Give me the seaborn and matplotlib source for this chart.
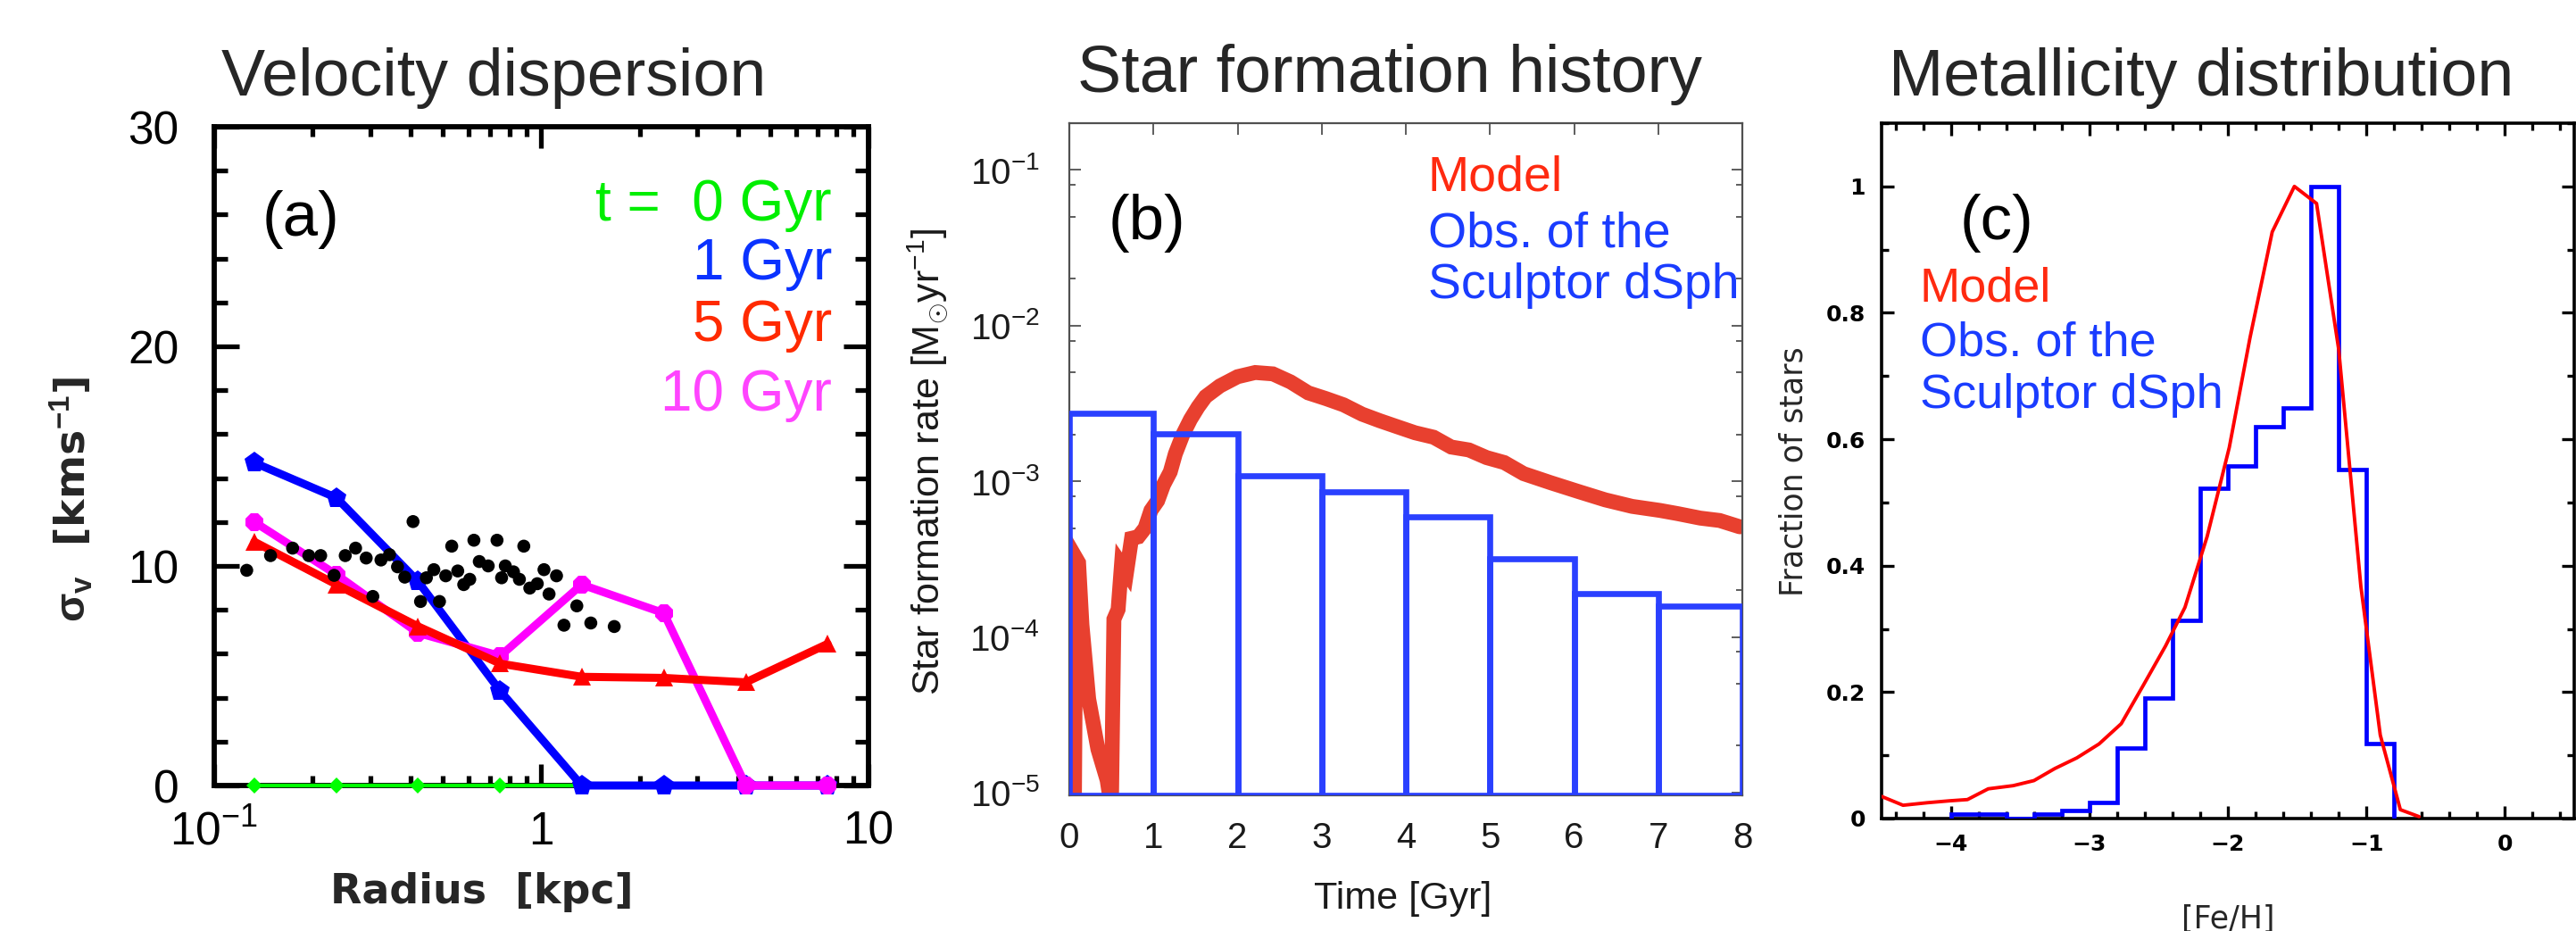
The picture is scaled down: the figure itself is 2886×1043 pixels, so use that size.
import numpy as np
import pandas as pd
import matplotlib
matplotlib.use('Agg')
import matplotlib.pyplot as plt
import matplotlib.ticker as mticker
import seaborn as sns

# ---------------- data ----------------
# (a) velocity dispersion profiles
radius_kpc = [0.133, 0.237, 0.42, 0.75, 1.33, 2.37, 4.22, 7.5]
sigma_0gyr = [0, 0, 0, 0, 0, 0, 0, 0]
sigma_1gyr = [14.7, 13.1, 9.3, 4.3, 0, 0, 0, 0]
sigma_5gyr = [11.1, 9.15, 7.25, 5.55, 4.95, 4.9, 4.7, 6.45]
sigma_10gyr = [12.0, 9.6, 6.95, 5.9, 9.15, 7.85, 0, 0]
obs_radius = [0.126, 0.149, 0.174, 0.195, 0.212, 0.233, 0.252, 0.271, 0.292, 0.306,
              0.324, 0.344, 0.364, 0.383, 0.406, 0.428, 0.446, 0.470, 0.489, 0.511,
              0.533, 0.556, 0.580, 0.605, 0.623, 0.647, 0.689, 0.733, 0.757, 0.777,
              0.823, 0.858, 0.885, 0.923, 0.973, 1.02, 1.057, 1.114, 1.174, 1.285,
              1.418, 1.672]
obs_sigma = [9.80, 10.47, 10.81, 10.47, 10.47, 9.57, 10.47, 10.81, 10.36, 8.61,
             10.27, 10.51, 9.96, 9.49, 12.02, 8.38, 9.46, 9.83, 8.38, 9.55,
             10.90, 9.77, 9.15, 9.39, 11.17, 10.20, 10.0, 11.17, 9.46, 10.0,
             9.73, 9.39, 10.90, 8.99, 9.19, 9.83, 8.72, 9.55, 7.30, 8.18,
             7.40, 7.24]
xticks_a = [0.1, 1, 10]
xticklabels_a = [r'$10^{-1}$', '1', '10']

# (b) star formation history
sfh_bin_left = [0, 1, 2, 3, 4, 5, 6, 7]
sfh_obs = [2.73e-3, 2.0e-3, 1.08e-3, 8.5e-4, 5.85e-4, 3.1e-4, 1.8e-4, 1.48e-4]
sfr_time = [0.06, 0.08, 0.11, 0.15, 0.23, 0.34, 0.45, 0.50, 0.53, 0.58,
            0.62, 0.68, 0.74, 0.82, 0.90, 0.97, 1.05, 1.12, 1.20, 1.26,
            1.35, 1.44, 1.53, 1.62, 1.79, 2.00, 2.21, 2.42, 2.63, 2.84,
            3.05, 3.26, 3.48, 3.69, 3.90, 4.11, 4.33, 4.54, 4.75, 4.96,
            5.17, 5.40, 5.72, 6.05, 6.37, 6.69, 7.02, 7.23, 7.50, 7.73, 7.97]
sfr_model = [8e-6, 3.2e-4, 3.0e-4, 1.2e-4, 4.0e-5, 1.9e-5, 1.2e-5, 8e-6, 1.3e-4, 1.5e-4,
             2.9e-4, 2.6e-4, 4.3e-4, 4.4e-4, 5.0e-4, 6.5e-4, 7.5e-4, 9.5e-4, 1.15e-3, 1.5e-3,
             2.0e-3, 2.5e-3, 3.0e-3, 3.5e-3, 4.1e-3, 4.7e-3, 5.0e-3, 4.9e-3, 4.35e-3, 3.7e-3,
             3.4e-3, 3.1e-3, 2.7e-3, 2.45e-3, 2.24e-3, 2.05e-3, 1.92e-3, 1.66e-3, 1.59e-3, 1.42e-3,
             1.32e-3, 1.12e-3, 9.8e-4, 8.6e-4, 7.6e-4, 6.9e-4, 6.5e-4, 6.2e-4, 5.8e-4, 5.6e-4, 5.1e-4]
yticks_b = [1e-5, 1e-4, 1e-3, 1e-2, 1e-1]
yticklabels_b = [r'$10^{-5}$', r'$10^{-4}$', r'$10^{-3}$', r'$10^{-2}$', r'$10^{-1}$']

# (c) metallicity distribution
feh_bin_edges = [-4.0, -3.8, -3.6, -3.4, -3.2, -3.0, -2.8, -2.6, -2.4, -2.2,
                 -2.0, -1.8, -1.6, -1.4, -1.2, -1.0, -0.8]
feh_obs = [0.007, 0.007, 0.0, 0.007, 0.013, 0.025, 0.111, 0.191, 0.314, 0.522,
           0.558, 0.620, 0.650, 1.0, 0.552, 0.118]
feh_model_x = [-4.5, -4.345, -4.17, -4.01, -3.88, -3.73, -3.55, -3.40, -3.25, -3.09,
               -2.93, -2.77, -2.61, -2.45, -2.31, -2.15, -1.99, -1.84, -1.68, -1.52,
               -1.36, -1.20, -1.04, -0.90, -0.755, -0.62]
feh_model_y = [0.035, 0.021, 0.025, 0.028, 0.030, 0.047, 0.052, 0.060, 0.079, 0.096,
               0.118, 0.150, 0.211, 0.273, 0.334, 0.446, 0.587, 0.761, 0.928, 1.0,
               0.973, 0.742, 0.367, 0.132, 0.014, 0.003]
xticks_c = [-4, -3, -2, -1, 0]
xticklabels_c = ['\u22124', '\u22123', '\u22122', '\u22121', '0']
yticks_c = [0, 0.2, 0.4, 0.6, 0.8, 1.0]
yticklabels_c = ['0', '0.2', '0.4', '0.6', '0.8', '1']

# ---------------- style ----------------
sns.set_theme(style='ticks')
plt.rcParams['font.family'] = ['Liberation Sans', 'DejaVu Sans']
plt.rcParams['mathtext.fontset'] = 'custom'
plt.rcParams['mathtext.rm'] = 'Liberation Sans'
plt.rcParams['mathtext.it'] = 'Liberation Sans:italic'
plt.rcParams['mathtext.bf'] = 'Liberation Sans:bold'
plt.rcParams['mathtext.sf'] = 'Liberation Sans'

W, H = 2886, 1043
fig = plt.figure(figsize=(W / 100, H / 100), dpi=100)


def add_ax(l, r, t, b):
    return fig.add_axes([l / W, 1 - b / H, (r - l) / W, (b - t) / H])


def px(x, y):
    return x / W, 1 - y / H


axA = add_ax(239.6, 973, 142, 880)
axB = add_ax(1198, 1952, 138, 891)
axC = add_ax(2108, 2884, 138, 917)

# ---------------- panel (a) ----------------
axA.set_xscale('log')
sns.lineplot(x=radius_kpc, y=sigma_0gyr, ax=axA, color='#00ff00', lw=3, marker='D',
             markersize=9, markeredgewidth=0, clip_on=False, zorder=3)
sns.lineplot(x=radius_kpc, y=sigma_1gyr, ax=axA, color='#0000ff', lw=6.5, marker='p',
             markersize=17, markeredgewidth=0, clip_on=False, zorder=4)
sns.lineplot(x=radius_kpc, y=sigma_10gyr, ax=axA, color='#ff00ff', lw=6.5, marker='8',
             markersize=16, markeredgewidth=0, clip_on=False, zorder=5)
sns.lineplot(x=radius_kpc, y=sigma_5gyr, ax=axA, color='#ff0000', lw=6.5, marker='^',
             markersize=15, markeredgewidth=0, clip_on=False, zorder=6)
sns.scatterplot(x=obs_radius, y=obs_sigma, ax=axA, color='black', s=110,
                edgecolor='none', zorder=7)
axA.set_xlim(0.1, 10)
axA.set_ylim(0, 30)
axA.set_xticks(xticks_a)
axA.set_xticklabels(xticklabels_a)
axA.xaxis.set_minor_locator(mticker.LogLocator(base=10, subs=np.arange(2, 10)))
axA.xaxis.set_minor_formatter(mticker.NullFormatter())
axA.yaxis.set_major_locator(mticker.MultipleLocator(10))
axA.yaxis.set_minor_locator(mticker.MultipleLocator(2))
for s in axA.spines.values():
    s.set_linewidth(4.2)
    s.set_color('black')
axA.tick_params(which='both', direction='in', top=True, right=True, width=3.8,
                colors='black', labelsize=37)
axA.tick_params(axis='y', which='major', length=20, pad=28)
axA.tick_params(axis='y', which='minor', length=11)
axA.tick_params(axis='x', which='major', length=17, pad=20)
axA.tick_params(axis='x', which='minor', length=8)
axA.set_xlabel('')
axA.set_ylabel('')

axA.text(0.133, 0.859, '(a)', transform=axA.transAxes, ha='center', va='center',
         fontsize=51, color='black')
leg_a = [('t =  0 Gyr', '#00ee00', 0.858), ('1 Gyr', '#0a32ff', 0.768),
         ('5 Gyr', '#ff2a00', 0.675), ('10 Gyr', '#ff44ff', 0.569)]
for txt, c, yy in leg_a:
    axA.text(0.944, yy, txt, transform=axA.transAxes, ha='right', va='baseline',
             fontsize=46, color=c)

fig.text(*px(540, 1000), 'Radius  [kpc]', ha='center', va='center', fontsize=33,
         fontweight='bold', family='DejaVu Sans')
fig.text(*px(80, 560), r'$\mathbf{\sigma_v}$  [kms$^{\mathbf{-1}}$]', rotation=90,
         ha='center', va='center', fontsize=34, fontweight='bold', family='DejaVu Sans')

# ---------------- panel (b) ----------------
axB.set_yscale('log')
axB.bar(sfh_bin_left, sfh_obs, width=1, align='edge', bottom=9.6e-6, fill=False,
        edgecolor='#2a40ff', linewidth=4.8, zorder=3)
sns.lineplot(x=sfr_time, y=sfr_model, ax=axB, color='#e8402f', lw=12,
             solid_joinstyle='miter', zorder=2, sort=False)
axB.set_xlim(0, 8)
axB.set_ylim(9.6e-6, 0.2)
axB.set_xticks(range(0, 9))
axB.set_yticks(yticks_b)
axB.set_yticklabels(yticklabels_b)
axB.yaxis.set_minor_locator(mticker.LogLocator(base=10, subs=[2, 5, 8]))
axB.yaxis.set_minor_formatter(mticker.NullFormatter())
for s in axB.spines.values():
    s.set_linewidth(1.6)
    s.set_color('#505050')
axB.tick_params(which='both', direction='in', top=True, right=True, width=1.3,
                colors='#505050', labelcolor='#1a1a1a', labelsize=29)
axB.tick_params(which='major', length=9)
axB.tick_params(which='minor', length=5)
axB.tick_params(axis='y', which='major', pad=24)
axB.tick_params(axis='x', which='major', pad=21)
axB.set_xlabel('')
axB.set_ylabel('')
axB.text(0.115, 0.851, '(b)', transform=axB.transAxes, ha='center', va='center',
         fontsize=51, color='black')
axB.text(0.533, 0.918, 'Model', transform=axB.transAxes, ha='left', va='center',
         fontsize=40, color='#ff2a10')
axB.text(0.533, 0.834, 'Obs. of the', transform=axB.transAxes, ha='left', va='center',
         fontsize=40, color='#1a3cff')
axB.text(0.533, 0.758, 'Sculptor dSph', transform=axB.transAxes, ha='left', va='center',
         fontsize=40, color='#1a3cff')
fig.text(*px(1572, 1007), 'Time [Gyr]', ha='center', va='center', fontsize=31,
         color='#1a1a1a')
fig.text(*px(1040, 517), r'Star formation rate [M$_{\odot}$yr$^{-1}$]', rotation=90,
         ha='center', va='center', fontsize=31, color='#1a1a1a')

# ---------------- panel (c) ----------------
axC.stairs(feh_obs, feh_bin_edges, baseline=0, fill=False, color='#0000ff',
           linewidth=3.4, zorder=3)
sns.lineplot(x=feh_model_x, y=feh_model_y, ax=axC, color='#ff0000', lw=2.8,
             zorder=4, sort=False)
axC.set_xlim(-4.5, 0.5)
axC.set_ylim(0, 1.1)
axC.set_xticks(xticks_c)
axC.set_xticklabels(xticklabels_c, fontweight='bold', family='DejaVu Sans')
axC.set_yticks(yticks_c)
axC.set_yticklabels(yticklabels_c, fontweight='bold', family='DejaVu Sans')
axC.xaxis.set_minor_locator(mticker.MultipleLocator(0.2))
axC.yaxis.set_minor_locator(mticker.MultipleLocator(0.1))
for s in axC.spines.values():
    s.set_linewidth(2.6)
    s.set_color('black')
axC.tick_params(which='both', direction='in', top=True, right=True, width=2.4,
                colors='black', labelsize=18)
axC.tick_params(which='major', length=10)
axC.tick_params(which='minor', length=5.5)
axC.tick_params(axis='y', which='major', pad=13)
axC.tick_params(axis='x', which='major', pad=12)
axC.set_xlabel('')
axC.set_ylabel('')
axC.text(0.166, 0.856, '(c)', transform=axC.transAxes, ha='center', va='center',
         fontsize=51, color='black')
axC.text(0.055, 0.7625, 'Model', transform=axC.transAxes, ha='left', va='center',
         fontsize=39, color='#ff2a10')
axC.text(0.055, 0.683, 'Obs. of the', transform=axC.transAxes, ha='left', va='center',
         fontsize=39, color='#1a3cff')
axC.text(0.055, 0.608, 'Sculptor dSph', transform=axC.transAxes, ha='left', va='center',
         fontsize=39, color='#1a3cff')
fig.text(*px(2010, 528), 'Fraction of stars', rotation=90, ha='center', va='center',
         fontsize=25, family='DejaVu Sans')
fig.text(*px(2496, 1013), '[Fe/H]', ha='center', va='top', fontsize=25,
         family='DejaVu Sans')

# ---------------- titles ----------------
fig.text(*px(553, 107), 'Velocity dispersion', ha='center', va='baseline', fontsize=53)
fig.text(*px(1557, 103), 'Star formation history', ha='center', va='baseline', fontsize=53)
fig.text(*px(2466, 107), 'Metallicity distribution', ha='center', va='baseline', fontsize=53)

fig.savefig('out.png', dpi=100)
